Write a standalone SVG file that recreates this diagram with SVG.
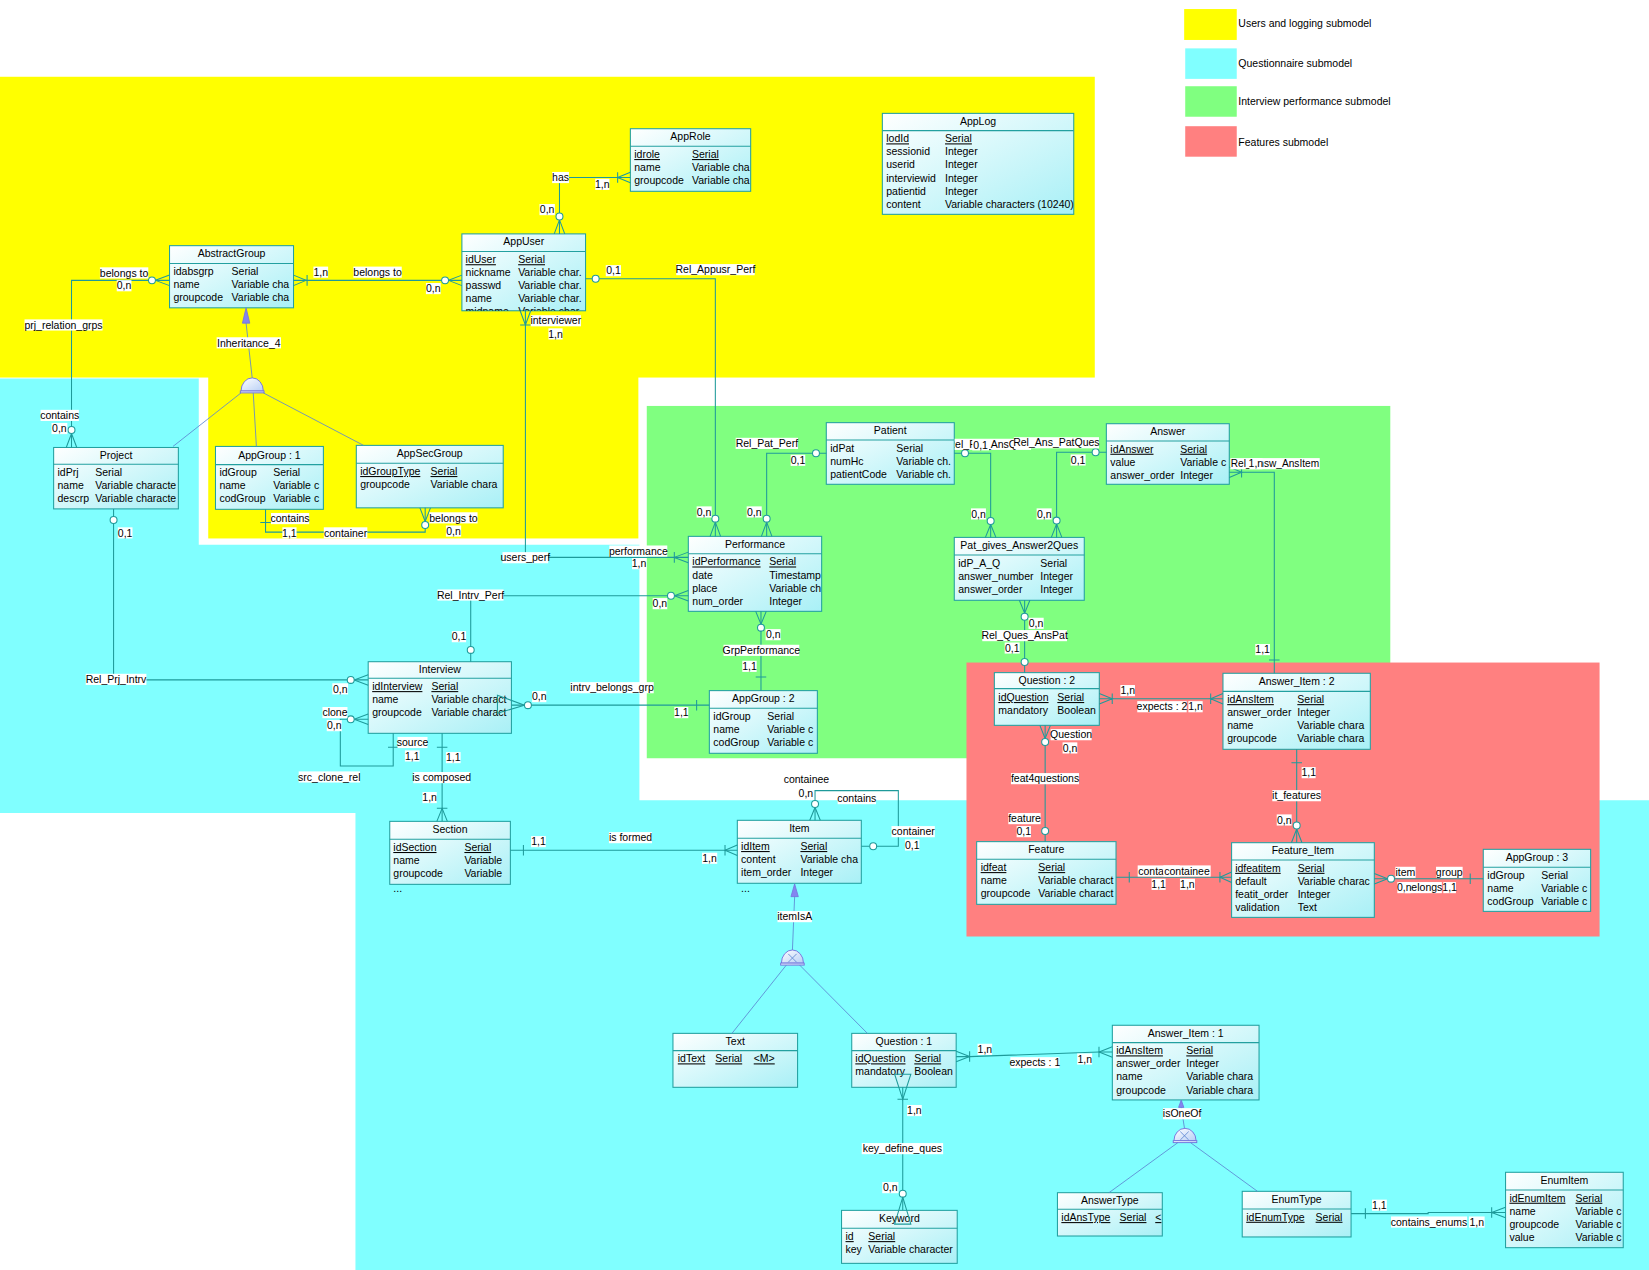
<svg xmlns="http://www.w3.org/2000/svg" width="1649" height="1270" viewBox="0 0 1649 1270">
<defs>
<linearGradient id="g" x1="0" y1="0" x2="1" y2="1"><stop offset="0" stop-color="#ffffff"/><stop offset="1" stop-color="#a8f0f6"/></linearGradient>
<linearGradient id="dg" x1="0" y1="0" x2="1" y2="1"><stop offset="0" stop-color="#ffffff"/><stop offset="1" stop-color="#b8cff5"/></linearGradient>
<clipPath id="cpRPA"><rect x="907.6" y="410" width="90" height="20"/></clipPath>
<style>
.t{font-family:"Liberation Sans",Arial,Helvetica,sans-serif;font-size:10px;fill:#000}
.m{text-anchor:middle}
.u{text-decoration:underline}
.e{fill:url(#g);stroke:#23a0a0;stroke-width:1}
.s{stroke:#23a0a0;stroke-width:1}
.c{fill:none;stroke:#1e9a9a;stroke-width:1}
.o{fill:#fff;stroke:#1e9a9a;stroke-width:1}
.w{fill:#fff}
.i{fill:none;stroke:#5c86d2;stroke-width:0.8}
.d{fill:url(#dg);stroke:#7474dc;stroke-width:0.9}
.a{fill:#8484f0;stroke:#7474dc;stroke-width:0.8}
</style>
</defs>
<rect width="1649" height="1270" fill="#fff"/>
<g transform="scale(1.05166)">
<g id="background">
<rect x="0" y="73" width="1041" height="286" fill="#ffff00"/>
<rect x="198" y="358" width="409" height="154" fill="#ffff00"/>
<path d="M0,360H189V518H608V761H1568V1208H338V773H0Z" fill="#80ffff"/>
<rect x="615" y="386" width="707" height="335" fill="#80ff80"/>
<rect x="919" y="630" width="602" height="260.5" fill="#ff8080"/>
</g>
<g id="legend">
<rect x="1126" y="8.6" width="50" height="29.4" fill="#ffff00"/>
<text class="t" x="1177.5" y="26">Users and logging submodel</text>
<rect x="1127" y="46" width="49" height="29" fill="#80ffff"/>
<text class="t" x="1177.5" y="64">Questionnaire submodel</text>
<rect x="1127" y="82" width="49" height="29" fill="#80ff80"/>
<text class="t" x="1177.5" y="100.2">Interview performance submodel</text>
<rect x="1127" y="120" width="49" height="29" fill="#ff8080"/>
<text class="t" x="1177.5" y="139.2">Features submodel</text>
</g>

<g id="AppRole" transform="translate(599.4,122.4)"><rect class="e" width="114.4" height="59.5"/><line class="s" x2="114.4" y1="16.7" y2="16.7"/><svg width="114.4" height="59.5"><text class="t m" x="57.2" y="11">AppRole</text><text class="t u" x="3.7" y="27.9">idrole</text><text class="t u" x="58.6" y="27.9">Serial</text><text class="t" x="3.7" y="40.3">name</text><text class="t" x="58.6" y="40.3">Variable cha</text><text class="t" x="3.7" y="52.7">groupcode</text><text class="t" x="58.6" y="52.7">Variable cha</text></svg></g>

<g id="AppLog" transform="translate(839,107.8)"><rect class="e" width="182" height="96"/><line class="s" x2="182" y1="16.4" y2="16.4"/><svg width="182" height="96"><text class="t m" x="91" y="11">AppLog</text><text class="t u" x="3.7" y="27.6">lodId</text><text class="t u" x="59.6" y="27.6">Serial</text><text class="t" x="3.7" y="40">sessionid</text><text class="t" x="59.6" y="40">Integer</text><text class="t" x="3.7" y="52.4">userid</text><text class="t" x="59.6" y="52.4">Integer</text><text class="t" x="3.7" y="64.8">interviewid</text><text class="t" x="59.6" y="64.8">Integer</text><text class="t" x="3.7" y="77.2">patientid</text><text class="t" x="59.6" y="77.2">Integer</text><text class="t" x="3.7" y="89.6">content</text><text class="t" x="59.6" y="89.6">Variable characters (10240)</text></svg></g>

<g id="AbstractGroup" transform="translate(161.2,233.6)"><rect class="e" width="117.9" height="59.1"/><line class="s" x2="117.9" y1="17" y2="17"/><svg width="117.9" height="59.1"><text class="t m" x="59" y="11">AbstractGroup</text><text class="t" x="3.7" y="28.2">idabsgrp</text><text class="t" x="59" y="28.2">Serial</text><text class="t" x="3.7" y="40.6">name</text><text class="t" x="59" y="40.6">Variable cha</text><text class="t" x="3.7" y="53">groupcode</text><text class="t" x="59" y="53">Variable cha</text></svg></g>

<g id="AppUser" transform="translate(439.2,222.4)"><rect class="e" width="117.6" height="73.1"/><line class="s" x2="117.6" y1="16.7" y2="16.7"/><svg width="117.6" height="73.1"><text class="t m" x="58.8" y="11">AppUser</text><text class="t u" x="3.5" y="27.9">idUser</text><text class="t u" x="53.5" y="27.9">Serial</text><text class="t" x="3.5" y="40.3">nickname</text><text class="t" x="53.5" y="40.3">Variable char.</text><text class="t" x="3.5" y="52.7">passwd</text><text class="t" x="53.5" y="52.7">Variable char.</text><text class="t" x="3.5" y="65.1">name</text><text class="t" x="53.5" y="65.1">Variable char.</text><text class="t" x="3.5" y="77.5">midname</text><text class="t" x="53.5" y="77.5">Variable char.</text></svg></g>

<g id="Project" transform="translate(51,425.5)"><rect class="e" width="118.6" height="58.4"/><line class="s" x2="118.6" y1="16" y2="16"/><svg width="118.6" height="58.4"><text class="t m" x="59.3" y="11">Project</text><text class="t" x="3.7" y="27.2">idPrj</text><text class="t" x="39.6" y="27.2">Serial</text><text class="t" x="3.7" y="39.6">name</text><text class="t" x="39.6" y="39.6">Variable characte</text><text class="t" x="3.7" y="52">descrp</text><text class="t" x="39.6" y="52">Variable characte</text></svg></g>

<g id="AppGroup1" transform="translate(204.9,424.5)"><rect class="e" width="102.6" height="59.8"/><line class="s" x2="102.6" y1="17.3" y2="17.3"/><svg width="102.6" height="59.8"><text class="t m" x="51.3" y="11.5">AppGroup : 1</text><text class="t" x="3.7" y="28.5">idGroup</text><text class="t" x="54.9" y="28.5">Serial</text><text class="t" x="3.7" y="40.9">name</text><text class="t" x="54.9" y="40.9">Variable c</text><text class="t" x="3.7" y="53.3">codGroup</text><text class="t" x="54.9" y="53.3">Variable c</text></svg></g>

<g id="AppSecGroup" transform="translate(338.8,423.5)"><rect class="e" width="139.7" height="59.4"/><line class="s" x2="139.7" y1="17" y2="17"/><svg width="139.7" height="59.4"><text class="t m" x="69.8" y="11">AppSecGroup</text><text class="t u" x="3.7" y="28.2">idGroupType</text><text class="t u" x="70.6" y="28.2">Serial</text><text class="t" x="3.7" y="40.6">groupcode</text><text class="t" x="70.6" y="40.6">Variable chara</text></svg></g>

<g id="Patient" transform="translate(785.7,401.9)"><rect class="e" width="121.7" height="58.6"/><line class="s" x2="121.7" y1="16.5" y2="16.5"/><svg width="121.7" height="58.6"><text class="t m" x="60.8" y="11">Patient</text><text class="t" x="3.8" y="27.7">idPat</text><text class="t" x="66.6" y="27.7">Serial</text><text class="t" x="3.8" y="40.1">numHc</text><text class="t" x="66.6" y="40.1">Variable ch.</text><text class="t" x="3.8" y="52.5">patientCode</text><text class="t" x="66.6" y="52.5">Variable ch.</text></svg></g>

<g id="Performance" transform="translate(654.5,510)"><rect class="e" width="126.8" height="71.3"/><line class="s" x2="126.8" y1="16.5" y2="16.5"/><svg width="126.8" height="71.3"><text class="t m" x="63.4" y="11">Performance</text><text class="t u" x="3.8" y="27.7">idPerformance</text><text class="t u" x="77" y="27.7">Serial</text><text class="t" x="3.8" y="40.1">date</text><text class="t" x="77" y="40.1">Timestamp</text><text class="t" x="3.8" y="52.5">place</text><text class="t" x="77" y="52.5">Variable ch</text><text class="t" x="3.8" y="64.9">num_order</text><text class="t" x="77" y="64.9">Integer</text></svg></g>

<g id="AppGroup2" transform="translate(674.5,656.7)"><rect class="e" width="102.7" height="59.6"/><line class="s" x2="102.7" y1="16.8" y2="16.8"/><svg width="102.7" height="59.6"><text class="t m" x="51.3" y="11">AppGroup : 2</text><text class="t" x="3.8" y="28">idGroup</text><text class="t" x="55.1" y="28">Serial</text><text class="t" x="3.8" y="40.4">name</text><text class="t" x="55.1" y="40.4">Variable c</text><text class="t" x="3.8" y="52.8">codGroup</text><text class="t" x="55.1" y="52.8">Variable c</text></svg></g>

<g id="Pat_gives_Answer2Ques" transform="translate(907.4,511)"><rect class="e" width="123.6" height="59.8"/><line class="s" x2="123.6" y1="16.7" y2="16.7"/><svg width="123.6" height="59.8"><text class="t m" x="61.8" y="11">Pat_gives_Answer2Ques</text><text class="t" x="3.8" y="27.9">idP_A_Q</text><text class="t" x="81.8" y="27.9">Serial</text><text class="t" x="3.8" y="40.3">answer_number</text><text class="t" x="81.8" y="40.3">Integer</text><text class="t" x="3.8" y="52.7">answer_order</text><text class="t" x="81.8" y="52.7">Integer</text></svg></g>

<g id="Answer" transform="translate(1052,402.9)"><rect class="e" width="116.9" height="57.6"/><line class="s" x2="116.9" y1="16.4" y2="16.4"/><svg width="116.9" height="57.6"><text class="t m" x="58.4" y="11">Answer</text><text class="t u" x="3.8" y="27.6">idAnswer</text><text class="t u" x="70.3" y="27.6">Serial</text><text class="t" x="3.8" y="40">value</text><text class="t" x="70.3" y="40">Variable c</text><text class="t" x="3.8" y="52.4">answer_order</text><text class="t" x="70.3" y="52.4">Integer</text></svg></g>

<g id="Question2" transform="translate(945.5,639.6)"><rect class="e" width="99.8" height="50.1"/><line class="s" x2="99.8" y1="15.2" y2="15.2"/><svg width="99.8" height="50.1"><text class="t m" x="49.9" y="10.6">Question : 2</text><text class="t u" x="3.8" y="27">idQuestion</text><text class="t u" x="59.9" y="27">Serial</text><text class="t" x="3.8" y="39.4">mandatory</text><text class="t" x="59.9" y="39.4">Boolean</text></svg></g>

<g id="Answer_Item2" transform="translate(1162.9,640.2)"><rect class="e" width="140.1" height="72.3"/><line class="s" x2="140.1" y1="17.2" y2="17.2"/><svg width="140.1" height="72.3"><text class="t m" x="70" y="11.3">Answer_Item : 2</text><text class="t u" x="4" y="28.4">idAnsItem</text><text class="t u" x="70.7" y="28.4">Serial</text><text class="t" x="4" y="40.8">answer_order</text><text class="t" x="70.7" y="40.8">Integer</text><text class="t" x="4" y="53.2">name</text><text class="t" x="70.7" y="53.2">Variable chara</text><text class="t" x="4" y="65.6">groupcode</text><text class="t" x="70.7" y="65.6">Variable chara</text></svg></g>

<g id="Feature" transform="translate(928.7,800.3)"><rect class="e" width="132.5" height="59.6"/><line class="s" x2="132.5" y1="16.8" y2="16.8"/><svg width="132.5" height="59.6"><text class="t m" x="66.2" y="11">Feature</text><text class="t u" x="3.8" y="28">idfeat</text><text class="t u" x="58.6" y="28">Serial</text><text class="t" x="3.8" y="40.4">name</text><text class="t" x="58.6" y="40.4">Variable charact</text><text class="t" x="3.8" y="52.8">groupcode</text><text class="t" x="58.6" y="52.8">Variable charact</text></svg></g>

<g id="Feature_Item" transform="translate(1171.1,801.3)"><rect class="e" width="135.7" height="71"/><line class="s" x2="135.7" y1="16.5" y2="16.5"/><svg width="135.7" height="71"><text class="t m" x="67.8" y="11">Feature_Item</text><text class="t u" x="3.4" y="27.7">idfeatitem</text><text class="t u" x="62.8" y="27.7">Serial</text><text class="t" x="3.4" y="40.1">default</text><text class="t" x="62.8" y="40.1">Variable charac</text><text class="t" x="3.4" y="52.5">featit_order</text><text class="t" x="62.8" y="52.5">Integer</text><text class="t" x="3.4" y="64.9">validation</text><text class="t" x="62.8" y="64.9">Text</text></svg></g>

<g id="AppGroup3" transform="translate(1410.4,807.6)"><rect class="e" width="102.1" height="59"/><line class="s" x2="102.1" y1="17.1" y2="17.1"/><svg width="102.1" height="59"><text class="t m" x="51" y="11.3">AppGroup : 3</text><text class="t" x="3.9" y="28.3">idGroup</text><text class="t" x="55.2" y="28.3">Serial</text><text class="t" x="3.9" y="40.7">name</text><text class="t" x="55.2" y="40.7">Variable c</text><text class="t" x="3.9" y="53.1">codGroup</text><text class="t" x="55.2" y="53.1">Variable c</text></svg></g>

<g id="Interview" transform="translate(350.1,629.2)"><rect class="e" width="136.2" height="68.1"/><line class="s" x2="136.2" y1="15.8" y2="15.8"/><svg width="136.2" height="68.1"><text class="t m" x="68.1" y="10.8">Interview</text><text class="t u" x="3.8" y="27">idInterview</text><text class="t u" x="60.1" y="27">Serial</text><text class="t" x="3.8" y="39.4">name</text><text class="t" x="60.1" y="39.4">Variable charact</text><text class="t" x="3.8" y="51.8">groupcode</text><text class="t" x="60.1" y="51.8">Variable charact</text></svg></g>

<g id="Section" transform="translate(370.6,781)"><rect class="e" width="114.7" height="59.9"/><line class="s" x2="114.7" y1="17" y2="17"/><svg width="114.7" height="59.9"><text class="t m" x="57.3" y="11">Section</text><text class="t u" x="3.4" y="28.2">idSection</text><text class="t u" x="71" y="28.2">Serial</text><text class="t" x="3.4" y="40.6">name</text><text class="t" x="71" y="40.6">Variable</text><text class="t" x="3.4" y="53">groupcode</text><text class="t" x="71" y="53">Variable</text></svg><text class="t" x="3.4" y="67.5">...</text></g>

<g id="Item" transform="translate(701.1,780)"><rect class="e" width="117.9" height="59.9"/><line class="s" x2="117.9" y1="17.1" y2="17.1"/><svg width="117.9" height="59.9"><text class="t m" x="59" y="11">Item</text><text class="t u" x="3.6" y="28.3">idItem</text><text class="t u" x="60" y="28.3">Serial</text><text class="t" x="3.6" y="40.7">content</text><text class="t" x="60" y="40.7">Variable cha</text><text class="t" x="3.6" y="53.1">item_order</text><text class="t" x="60" y="53.1">Integer</text></svg><text class="t" x="3.6" y="68.5">...</text></g>

<g id="Text" transform="translate(639.9,982.6)"><rect class="e" width="118.5" height="51.3"/><line class="s" x2="118.5" y1="16.4" y2="16.4"/><svg width="118.5" height="51.3"><text class="t m" x="59.2" y="11">Text</text><text class="t u" x="4.6" y="27.6">idText</text><text class="t u" x="40.3" y="27.6">Serial</text><text class="t u" x="76.8" y="27.6">&lt;M&gt;</text></svg></g>

<g id="Question1" transform="translate(809.9,982.6)"><rect class="e" width="99.3" height="51.3"/><line class="s" x2="99.3" y1="16.4" y2="16.4"/><svg width="99.3" height="51.3"><text class="t m" x="49.6" y="11">Question : 1</text><text class="t u" x="3.4" y="27.6">idQuestion</text><text class="t u" x="59.5" y="27.6">Serial</text><text class="t" x="3.4" y="40">mandatory</text><text class="t" x="59.5" y="40">Boolean</text></svg></g>

<g id="Answer_Item1" transform="translate(1057.7,974.9)"><rect class="e" width="139.5" height="71"/><line class="s" x2="139.5" y1="16.5" y2="16.5"/><svg width="139.5" height="71"><text class="t m" x="69.7" y="11">Answer_Item : 1</text><text class="t u" x="3.7" y="27.7">idAnsItem</text><text class="t u" x="70.3" y="27.7">Serial</text><text class="t" x="3.7" y="40.1">answer_order</text><text class="t" x="70.3" y="40.1">Integer</text><text class="t" x="3.7" y="52.5">name</text><text class="t" x="70.3" y="52.5">Variable chara</text><text class="t" x="3.7" y="64.9">groupcode</text><text class="t" x="70.3" y="64.9">Variable chara</text></svg></g>

<g id="Keyword" transform="translate(800.2,1150.9)"><rect class="e" width="110" height="50.4"/><line class="s" x2="110" y1="17.1" y2="17.1"/><svg width="110" height="50.4"><text class="t m" x="55" y="11.2">Keyword</text><text class="t u" x="3.8" y="28.3">id</text><text class="t u" x="25.5" y="28.3">Serial</text><text class="t" x="3.8" y="40.7">key</text><text class="t" x="25.5" y="40.7">Variable character</text></svg></g>

<g id="AnswerType" transform="translate(1005.5,1134.1)"><rect class="e" width="99.7" height="41.2"/><line class="s" x2="99.7" y1="15.8" y2="15.8"/><svg width="99.7" height="41.2"><text class="t m" x="49.8" y="10.8">AnswerType</text><text class="t u" x="3.7" y="27">idAnsType</text><text class="t u" x="59.1" y="27">Serial</text><text class="t u" x="93" y="27">&lt;</text></svg></g>

<g id="EnumType" transform="translate(1181.2,1132.8)"><rect class="e" width="103.5" height="43.4"/><line class="s" x2="103.5" y1="16.8" y2="16.8"/><svg width="103.5" height="43.4"><text class="t m" x="51.7" y="11">EnumType</text><text class="t u" x="3.8" y="28">idEnumType</text><text class="t u" x="69.8" y="28">Serial</text></svg></g>

<g id="EnumItem" transform="translate(1431.6,1114.7)"><rect class="e" width="111.9" height="71.7"/><line class="s" x2="111.9" y1="16.8" y2="16.8"/><svg width="111.9" height="71.7"><text class="t m" x="56" y="11">EnumItem</text><text class="t u" x="3.7" y="28">idEnumItem</text><text class="t u" x="66.5" y="28">Serial</text><text class="t" x="3.7" y="40.4">name</text><text class="t" x="66.5" y="40.4">Variable c</text><text class="t" x="3.7" y="52.8">groupcode</text><text class="t" x="66.5" y="52.8">Variable c</text><text class="t" x="3.7" y="65.2">value</text><text class="t" x="66.5" y="65.2">Variable c</text></svg></g>

<g id="connectors">
<path class="c" d="M161.2,266.6H68V425.5"/>
<path class="c" d="M161.2,261.6L147.8,266.6L161.2,271.6M63,425.5L68,412.2L73,425.5"/>
<circle class="o" cx="144.5" cy="266.6" r="3.3"/><circle class="o" cx="68" cy="408.9" r="3.3"/>
<path class="c" d="M279.1,266.6H439.2"/>
<path class="c" d="M279.1,261.6L291,266.6L279.1,271.6M292,261.6V271.6M439.2,261.6L426.5,266.6L439.2,271.6"/>
<circle class="o" cx="423.2" cy="266.6" r="3.3"/>
<path class="c" d="M532,222.4V168.8H599.4"/>
<path class="c" d="M527,222.4L532,209.1L537,222.4M599.4,163.8L587.3,168.8L599.4,173.8M587.3,163.8V173.8"/>
<circle class="o" cx="532" cy="205.8" r="3.3"/>
<path class="c" d="M556.8,265H680.2V510"/>
<path class="c" d="M675.2,510L680.2,496.5L685.2,510"/>
<circle class="o" cx="566.4" cy="265" r="3.3"/><circle class="o" cx="680.2" cy="493.2" r="3.3"/>
<path class="c" d="M499.6,295.5V530H654.5"/>
<path class="c" d="M494.6,295.5L499.6,309L504.6,295.5M494.6,309H504.6M654.5,525L641.2,530L654.5,535M641.2,525V535"/>
<path class="c" d="M447.6,629.2V566.5H654.5"/>
<path class="c" d="M654.5,561.5L641.3,566.5L654.5,571.5"/>
<circle class="o" cx="447.6" cy="618" r="3.3"/><circle class="o" cx="638" cy="566.5" r="3.3"/>
<path class="c" d="M108,483.9V646.5H350.1"/>
<path class="c" d="M350.1,641.5L336.8,646.5L350.1,651.5"/>
<circle class="o" cx="108" cy="494.5" r="3.3"/><circle class="o" cx="333.5" cy="646.5" r="3.3"/>
<path class="c" d="M350.1,684H323.6V728.4H373.9V697.3"/>
<path class="c" d="M350.1,679L336.8,684L350.1,689M368.9,710.6H378.9"/>
<circle class="o" cx="333.5" cy="684" r="3.3"/>
<path class="c" d="M420.4,697.3V781"/>
<path class="c" d="M415.4,710.6H425.4M415.4,781L420.4,768.6L425.4,781M415.4,768.6H425.4"/>
<path class="c" d="M486.3,670.5H674.5"/>
<path class="c" d="M473,661.2L498.7,670.5L473,678.3ZM662.4,665.5V675.5"/>
<circle class="o" cx="502" cy="670.5" r="3.3"/>
<path class="c" d="M723.6,581.3V656.7"/>
<path class="c" d="M718.6,581.3L723.6,593.5L728.6,581.3M718.6,643.7H728.6"/>
<circle class="o" cx="723.6" cy="596.8" r="3.3"/>
<path class="c" d="M785.7,431H729V510"/>
<path class="c" d="M724,510L729,496.5L734,510"/>
<circle class="o" cx="775.9" cy="431" r="3.3"/><circle class="o" cx="729" cy="493.2" r="3.3"/>
<path class="c" d="M907.4,431H942V511"/>
<path class="c" d="M937,511L942,498.7L947,511"/>
<circle class="o" cx="917.6" cy="431" r="3.3"/><circle class="o" cx="942" cy="495.4" r="3.3"/>
<path class="c" d="M1052,430H1004.7V511"/>
<path class="c" d="M999.7,511L1004.7,498.3L1009.7,511"/>
<circle class="o" cx="1041.8" cy="430" r="3.3"/><circle class="o" cx="1004.7" cy="495" r="3.3"/>
<path class="c" d="M974.3,570.8V639.6"/>
<path class="c" d="M969.3,570.8L974.3,583.1L979.3,570.8"/>
<circle class="o" cx="974.3" cy="586.4" r="3.3"/><circle class="o" cx="974.3" cy="629.5" r="3.3"/>
<path class="c" d="M1168.9,449H1211.7V640.2"/>
<path class="c" d="M1168.9,444L1180.6,449L1168.9,454M1180.6,444V454M1206.7,627.6H1216.7"/>
<path class="c" d="M1045.3,664.4H1162.9"/>
<path class="c" d="M1045.3,659.4L1057.6,664.4L1045.3,669.4M1057.6,659.4V669.4M1162.9,659.4L1151.2,664.4L1162.9,669.4M1151.2,659.4V669.4"/>
<path class="c" d="M993.8,689.7V800.3"/>
<path class="c" d="M988.8,689.7L993.8,702.2L998.8,689.7"/>
<circle class="o" cx="993.8" cy="705.5" r="3.3"/><circle class="o" cx="993.8" cy="790.2" r="3.3"/>
<path class="c" d="M1233,712.5V801.3"/>
<path class="c" d="M1228,725.2H1238M1228,801.3L1233,788.3L1238,801.3"/>
<circle class="o" cx="1233" cy="785" r="3.3"/>
<path class="c" d="M1061.2,834.2H1171.1"/>
<path class="c" d="M1073.8,829.2V839.2M1171.1,829.2L1160,834.2L1171.1,839.2M1160,829.2V839.2"/>
<path class="c" d="M1306.8,835.5H1410.4"/>
<path class="c" d="M1306.8,830.5L1319.4,835.5L1306.8,840.5M1398,830.5V840.5"/>
<circle class="o" cx="1322.7" cy="835.5" r="3.3"/>
<path class="c" d="M485.3,808.5H701.1"/>
<path class="c" d="M497.7,803.5V813.5M701.1,803.5L689.4,808.5L701.1,813.5M689.4,803.5V813.5"/>
<path class="c" d="M775,780V751.8H854.2V804.7H819"/>
<path class="c" d="M770,780L775,767.8L780,780"/>
<circle class="o" cx="775" cy="764.5" r="3.3"/><circle class="o" cx="830.3" cy="804.7" r="3.3"/>
<path class="c" d="M909.2,1004.7H922L1045,1000.3H1057.7"/>
<path class="c" d="M909.2,999.7L922,1004.7L909.2,1009.7M922,999.7V1009.7M1057.7,995.3L1045,1000.3L1057.7,1005.3M1045,995.3V1005.3"/>
<path class="c" d="M858.4,1033.9V1150.9"/>
<path class="c" d="M850.7,1021.5H866.1L858.4,1045.3ZM853.4,1045.3H863.4M858.4,1138.3L850.7,1164H866.1Z"/>
<circle class="o" cx="858.4" cy="1135" r="3.3"/>
<path class="c" d="M1284.7,1154H1358V1153H1431.6"/>
<path class="c" d="M1298.3,1149V1159M1431.6,1148L1418.4,1153L1431.6,1158M1418.4,1148V1158"/>
<path class="c" d="M252.5,484.3V506H404.3V482.9"/>
<path class="c" d="M247.5,496.8H257.5M399.3,482.9L404.3,495.9L409.3,482.9"/>
<circle class="o" cx="404.3" cy="499.2" r="3.3"/>
<polygon class="a" points="234,292.7 230.5,307.3 237.5,307.3"/>
<path class="i" d="M234,307.3L239.8,359.3"/>
<path class="d" d="M229.2,371.8A10.6,12.5 0 0 1 250.4,371.8Z"/>
<rect class="d" x="228.5" y="371.8" width="22.6" height="1.8"/>
<path class="i" d="M229.2,373.6L164.5,424.5M240.8,373.6L243.8,424.5M250.4,373.6L345.7,423.5"/>
<polygon class="a" points="755.6,840.5 752.1,852.6 759.1,852.6"/>
<path class="i" d="M755.6,852.6L753.5,903.3"/>
<path class="d" d="M743,915.8A10.5,12.5 0 0 1 764,915.8Z"/>
<rect class="d" x="742.3" y="915.8" width="22.4" height="1.9"/>
<path class="i" d="M749.5,907L757.5,915M757.5,907L749.5,915"/>
<path class="i" d="M747.7,917.7L696,982.6M760.4,917.7L824.8,982.6"/>
<polygon class="a" points="1123.2,1046 1120.7,1053 1125.7,1053"/>
<path class="i" d="M1123.2,1053L1126.3,1072.9"/>
<path class="d" d="M1116.3,1084.6A10.5,11.7 0 0 1 1137.3,1084.6Z"/>
<rect class="d" x="1115.6" y="1084.6" width="22.4" height="1.9"/>
<path class="i" d="M1122.3,1076L1130.3,1084M1130.3,1076L1122.3,1084"/>
<path class="i" d="M1120,1086.5L1054.5,1134.1M1132,1086.5L1195.7,1132.8"/>

<g id="labels">
<rect class="w" x="95" y="254.2" width="46" height="10.6"/><text class="t m" x="118" y="263">belongs to</text>
<rect class="w" x="111" y="266.4" width="14" height="10.6"/><text class="t m" x="118" y="275.2">0,n</text>
<rect class="w" x="23.3" y="303.7" width="74.2" height="10.6"/><text class="t m" x="60.4" y="312.5">prj_relation_grps</text>
<rect class="w" x="38.6" y="389.7" width="36.4" height="10.6"/><text class="t m" x="56.8" y="398.5">contains</text>
<rect class="w" x="49" y="402.2" width="15" height="10.6"/><text class="t m" x="56.5" y="411">0,n</text>
<rect class="w" x="298" y="253.5" width="14" height="10.6"/><text class="t m" x="305" y="262.3">1,n</text>
<rect class="w" x="336" y="253.5" width="46" height="10.6"/><text class="t m" x="359" y="262.3">belongs to</text>
<rect class="w" x="405" y="269.1" width="14" height="10.6"/><text class="t m" x="412" y="277.9">0,n</text>
<rect class="w" x="525" y="163.5" width="16" height="10.6"/><text class="t m" x="533" y="172.3">has</text>
<rect class="w" x="513" y="194" width="14.6" height="10.6"/><text class="t m" x="520.3" y="202.8">0,n</text>
<rect class="w" x="566" y="170" width="13.5" height="10.6"/><text class="t m" x="572.7" y="178.8">1,n</text>
<rect class="w" x="576" y="252.1" width="14.5" height="10.6"/><text class="t m" x="583.3" y="260.9">0,1</text>
<rect class="w" x="643" y="251.1" width="74.6" height="10.6"/><text class="t m" x="680.3" y="259.9">Rel_Appusr_Perf</text>
<rect class="w" x="662.4" y="481.5" width="14.3" height="10.6"/><text class="t m" x="669.5" y="490.3">0,n</text>
<rect class="w" x="504.7" y="299.7" width="47.7" height="10.6"/><text class="t m" x="528.5" y="308.5">interviewer</text>
<rect class="w" x="521.5" y="312.2" width="13.5" height="10.6"/><text class="t m" x="528.3" y="321">1,n</text>
<rect class="w" x="477.8" y="525" width="43.5" height="10.6"/><text class="t m" x="499.5" y="533.8">users_perf</text>
<rect class="w" x="579.4" y="518.7" width="55.1" height="10.6"/><text class="t m" x="607" y="527.5">performance</text>
<rect class="w" x="601" y="530.7" width="13.5" height="10.6"/><text class="t m" x="607.7" y="539.5">1,n</text>
<rect class="w" x="416" y="560.5" width="62.8" height="10.6"/><text class="t m" x="447.4" y="569.3">Rel_Intrv_Perf</text>
<rect class="w" x="429.6" y="600.1" width="13.6" height="10.6"/><text class="t m" x="436.4" y="608.9">0,1</text>
<rect class="w" x="620.6" y="568.7" width="13.9" height="10.6"/><text class="t m" x="627.5" y="577.5">0,n</text>
<rect class="w" x="112" y="501.4" width="14" height="10.6"/><text class="t m" x="119" y="510.2">0,1</text>
<rect class="w" x="81.5" y="640.7" width="57.7" height="10.6"/><text class="t m" x="110.3" y="649.5">Rel_Prj_Intrv</text>
<rect class="w" x="316" y="649.7" width="15" height="10.6"/><text class="t m" x="323.5" y="658.5">0,n</text>
<rect class="w" x="306.6" y="672.3" width="23.8" height="10.6"/><text class="t m" x="318.5" y="681.1">clone</text>
<rect class="w" x="310.7" y="684.7" width="14.3" height="10.6"/><text class="t m" x="317.8" y="693.5">0,n</text>
<rect class="w" x="378" y="700.7" width="28.5" height="10.6"/><text class="t m" x="392.2" y="709.5">source</text>
<rect class="w" x="385" y="713.5" width="14" height="10.6"/><text class="t m" x="392" y="722.3">1,1</text>
<rect class="w" x="284" y="733.5" width="58.3" height="10.6"/><text class="t m" x="313.1" y="742.3">src_clone_rel</text>
<rect class="w" x="424" y="715.1" width="14" height="10.6"/><text class="t m" x="431" y="723.9">1,1</text>
<rect class="w" x="393" y="734.1" width="54" height="10.6"/><text class="t m" x="420" y="742.9">is composed</text>
<rect class="w" x="401.7" y="753.1" width="13.6" height="10.6"/><text class="t m" x="408.5" y="761.9">1,n</text>
<rect class="w" x="506" y="657.1" width="13.5" height="10.6"/><text class="t m" x="512.8" y="665.9">0,n</text>
<rect class="w" x="542.3" y="648.6" width="79.3" height="10.6"/><text class="t m" x="582" y="657.4">intrv_belongs_grp</text>
<rect class="w" x="641.2" y="672.3" width="13.3" height="10.6"/><text class="t m" x="647.9" y="681.1">1,1</text>
<rect class="w" x="728" y="598.2" width="14.3" height="10.6"/><text class="t m" x="735.2" y="607">0,n</text>
<rect class="w" x="688" y="613.1" width="72" height="10.6"/><text class="t m" x="724" y="621.9">GrpPerformance</text>
<rect class="w" x="705.8" y="628.3" width="13.7" height="10.6"/><text class="t m" x="712.7" y="637.1">1,1</text>
<rect class="w" x="699.5" y="416.3" width="59.3" height="10.6"/><text class="t m" x="729.2" y="425.1">Rel_Pat_Perf</text>
<rect class="w" x="751.8" y="432.4" width="13.9" height="10.6"/><text class="t m" x="758.8" y="441.2">0,1</text>
<rect class="w" x="710" y="481.5" width="14.3" height="10.6"/><text class="t m" x="717.2" y="490.3">0,n</text>
<g clip-path="url(#cpRPA)"><rect class="w" x="907.4" y="417.2" width="73" height="10.6"/><text class="t" x="901" y="426">Rel_Pat_AnsQues</text></g>
<rect class="w" x="924.5" y="417.7" width="15.9" height="10.6"/><text class="t m" x="932.5" y="426.5">0,1</text>
<rect class="w" x="923.3" y="483.4" width="14.2" height="10.6"/><text class="t m" x="930.4" y="492.2">0,n</text>
<rect class="w" x="964" y="415.7" width="81" height="10.6"/><text class="t m" x="1004.5" y="424.5">Rel_Ans_PatQues</text>
<rect class="w" x="1018" y="432.1" width="14.3" height="10.6"/><text class="t m" x="1025.2" y="440.9">0,1</text>
<rect class="w" x="985.7" y="483.4" width="14.3" height="10.6"/><text class="t m" x="992.9" y="492.2">0,n</text>
<rect class="w" x="978" y="587.4" width="14.4" height="10.6"/><text class="t m" x="985.2" y="596.2">0,n</text>
<rect class="w" x="934" y="599.1" width="80.6" height="10.6"/><text class="t m" x="974.3" y="607.9">Rel_Ques_AnsPat</text>
<rect class="w" x="955.3" y="610.9" width="14.3" height="10.6"/><text class="t m" x="962.5" y="619.7">0,1</text>
<rect class="w" x="1169.9" y="435.6" width="85" height="10.6"/><text class="t" x="1170.3" y="444.4" textLength="84" lengthAdjust="spacingAndGlyphs">Rel_Answ_AnsItem</text>
<rect class="w" x="1188" y="435.6" width="12.5" height="10.6"/><text class="t m" x="1194.2" y="444.4">1,n</text>
<rect class="w" x="1193.6" y="612.4" width="14" height="10.6"/><text class="t m" x="1200.6" y="621.2">1,1</text>
<rect class="w" x="1065.3" y="651.4" width="13.9" height="10.6"/><text class="t m" x="1072.3" y="660.2">1,n</text>
<rect class="w" x="1081.4" y="666.7" width="47" height="10.6"/><text class="t m" x="1104.9" y="675.5">expects : 2</text>
<rect class="w" x="1130" y="666.7" width="13.6" height="10.6"/><text class="t m" x="1136.8" y="675.5">1,n</text>
<rect class="w" x="999" y="693.3" width="39" height="10.6"/><text class="t m" x="1018.5" y="702.1">Question</text>
<rect class="w" x="1010.4" y="705.9" width="14" height="10.6"/><text class="t m" x="1017.4" y="714.7">0,n</text>
<rect class="w" x="961.3" y="735.1" width="64.7" height="10.6"/><text class="t m" x="993.7" y="743.9">feat4questions</text>
<rect class="w" x="958.8" y="773.1" width="30.7" height="10.6"/><text class="t m" x="974.2" y="781.9">feature</text>
<rect class="w" x="966.7" y="785.5" width="13.6" height="10.6"/><text class="t m" x="973.5" y="794.3">0,1</text>
<rect class="w" x="1237.7" y="729.4" width="13.3" height="10.6"/><text class="t m" x="1244.4" y="738.2">1,1</text>
<rect class="w" x="1209.8" y="751.3" width="46.2" height="10.6"/><text class="t m" x="1232.9" y="760.1">it_features</text>
<rect class="w" x="1214" y="774.4" width="14.2" height="10.6"/><text class="t m" x="1221.1" y="783.2">0,n</text>
<rect class="w" x="1081.8" y="822.9" width="40" height="10.6"/><text class="t" x="1082.3" y="831.7">contains</text>
<rect class="w" x="1106.2" y="822.9" width="45" height="10.6"/><text class="t m" x="1128.7" y="831.7">containee</text>
<rect class="w" x="1095" y="835.6" width="13.4" height="10.6"/><text class="t m" x="1101.7" y="844.4">1,1</text>
<rect class="w" x="1122" y="835.6" width="14.3" height="10.6"/><text class="t m" x="1129.1" y="844.4">1,n</text>
<rect class="w" x="1326.8" y="824.2" width="19.3" height="10.6"/><text class="t m" x="1336.4" y="833">item</text>
<rect class="w" x="1365.5" y="824.2" width="25.3" height="10.6"/><text class="t m" x="1378.1" y="833">group</text>
<rect class="w" x="1336" y="838.7" width="35" height="10.6"/><text class="t" x="1336.5" y="847.5">belongs</text>
<rect class="w" x="1328.7" y="838.7" width="12.8" height="10.6"/><text class="t m" x="1335.3" y="847.5">0,n</text>
<rect class="w" x="1372.4" y="838.7" width="12" height="10.6"/><text class="t m" x="1378.4" y="847.5">1,1</text>
<rect class="w" x="505" y="795" width="14" height="10.6"/><text class="t m" x="512" y="803.8">1,1</text>
<rect class="w" x="579" y="791.2" width="41" height="10.6"/><text class="t m" x="599.5" y="800">is formed</text>
<rect class="w" x="667.5" y="810.8" width="14.5" height="10.6"/><text class="t m" x="674.7" y="819.6">1,n</text>
<rect class="w" x="745.2" y="736.1" width="43.3" height="10.6"/><text class="t m" x="766.8" y="744.9">containee</text>
<rect class="w" x="759.4" y="748.7" width="13.9" height="10.6"/><text class="t m" x="766.3" y="757.5">0,n</text>
<rect class="w" x="796.5" y="754.1" width="36.5" height="10.6"/><text class="t m" x="814.7" y="762.9">contains</text>
<rect class="w" x="847.7" y="785.5" width="41.2" height="10.6"/><text class="t m" x="868.3" y="794.3">container</text>
<rect class="w" x="860.5" y="798.2" width="13.8" height="10.6"/><text class="t m" x="867.4" y="807">0,1</text>
<rect class="w" x="739.3" y="866.3" width="32.7" height="10.6"/><text class="t m" x="755.6" y="875.1">itemIsA</text>
<rect class="w" x="206" y="320.7" width="61.2" height="10.6"/><text class="t m" x="236.6" y="329.5">Inheritance_4</text>
<rect class="w" x="1105.9" y="1053.7" width="36.1" height="10.6"/><text class="t m" x="1124" y="1062.5">isOneOf</text>
<rect class="w" x="929.5" y="992.5" width="13.9" height="10.6"/><text class="t m" x="936.5" y="1001.3">1,n</text>
<rect class="w" x="960.7" y="1005.2" width="46.7" height="10.6"/><text class="t m" x="984" y="1014">expects : 1</text>
<rect class="w" x="1024.3" y="1001.7" width="14.2" height="10.6"/><text class="t m" x="1031.4" y="1010.5">1,n</text>
<rect class="w" x="862.5" y="1050.7" width="14" height="10.6"/><text class="t m" x="869.5" y="1059.5">1,n</text>
<rect class="w" x="819.4" y="1086.9" width="77.4" height="10.6"/><text class="t m" x="858.1" y="1095.7">key_define_ques</text>
<rect class="w" x="838.9" y="1124" width="15.4" height="10.6"/><text class="t m" x="846.6" y="1132.8">0,n</text>
<rect class="w" x="1304.6" y="1140.7" width="14.1" height="10.6"/><text class="t m" x="1311.6" y="1149.5">1,1</text>
<rect class="w" x="1322.7" y="1156.7" width="72.3" height="10.6"/><text class="t m" x="1358.8" y="1165.5">contains_enums</text>
<rect class="w" x="1396.8" y="1156.7" width="14.9" height="10.6"/><text class="t m" x="1404.2" y="1165.5">1,n</text>
<rect class="w" x="257.7" y="487.8" width="36.3" height="10.6"/><text class="t m" x="275.8" y="496.6">contains</text>
<rect class="w" x="268.5" y="501.4" width="13.5" height="10.6"/><text class="t m" x="275.2" y="510.2">1,1</text>
<rect class="w" x="307.9" y="501.4" width="41.4" height="10.6"/><text class="t m" x="328.6" y="510.2">container</text>
<rect class="w" x="408.3" y="487.1" width="45.8" height="10.6"/><text class="t m" x="431.2" y="495.9">belongs to</text>
<rect class="w" x="424" y="499.7" width="14.5" height="10.6"/><text class="t m" x="431.2" y="508.5">0,n</text>
</g>
</g>
</g>
</svg>
